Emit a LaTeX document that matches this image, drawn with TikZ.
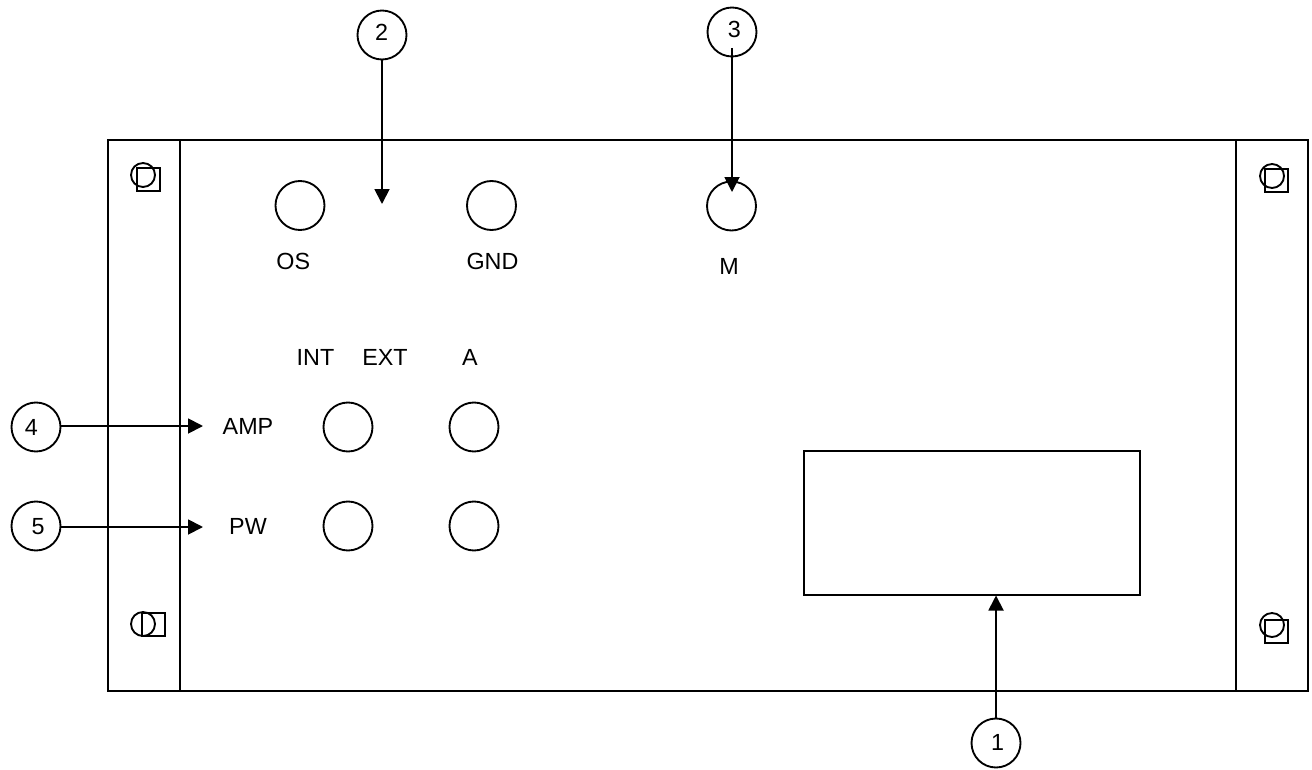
\documentclass[tikz,border=0pt]{standalone}
\usepackage{fontspec}
\setmainfont{Liberation Sans}
\usetikzlibrary{arrows.meta}
\tikzset{
  x=0.75pt,y=-0.75pt,
  line/.style={draw=black,line width=1.4pt},
  hole/.style={circle,draw=black,line width=1.4pt,minimum size=36.75pt,inner sep=0pt,outer sep=0pt},
  screwc/.style={circle,draw=black,line width=1.4pt,minimum size=18pt,inner sep=0pt},
  screws/.style={draw=black,line width=1.4pt,minimum width=17.25pt,minimum height=17.25pt,inner sep=0pt,outer sep=0pt},
  lab/.style={font=\fontsize{17.5}{20}\selectfont,inner sep=0pt,text=black},
  arr/.style={draw=black,line width=1.4pt,-{Triangle[length=11.25pt,width=11.25pt]}}
}
\begin{document}
\begin{tikzpicture}
\useasboundingbox (0,0) rectangle (1312,770);
\fill[white] (0,0) rectangle (1312,770);
\draw[line] (108,140) rectangle (1308,691);
\draw[line] (180,140) -- (180,691);
\draw[line] (1236,140) -- (1236,691);
% screws
\node[screwc] (c1) at (143,175) {};
\node[screws] (s1) at (148.5,179.5) {};
\node[screwc] (c2) at (143,624) {};
\node[screws] (s2) at (153.5,624.5) {};
\node[screwc] (c3) at (1272,176) {};
\node[screws] (s3) at (1276.5,180.5) {};
\node[screwc] (c4) at (1272,625) {};
\node[screws] (s4) at (1276.5,631.5) {};
% holes
\node[hole] (os) at (300,205.5) {};
\node[hole] (gnd) at (491.5,205.5) {};
\node[hole] (m) at (731.5,206) {};
\node[hole] (h1) at (348,427) {};
\node[hole] (h2) at (474,427) {};
\node[hole] (h3) at (348,526) {};
\node[hole] (h4) at (474,526) {};
\node[line,draw,minimum width=252pt,minimum height=108pt,inner sep=0pt] (disp) at (972,523) {};
% labels
\node[lab] (tos) at (293.3,261.7) {OS};
\node[lab] (tgnd) at (492.5,261.7) {GND};
\node[lab] (tm) at (729,266) {M};
\node[lab] (tint) at (315.5,357) {INT};
\node[lab] (text) at (385,357) {EXT};
\node[lab] (ta) at (470,357) {A};
\node[lab] (tamp) at (248,426.7) {AMP};
\node[lab] (tpw) at (248,526.7) {PW};
% callouts
\node[hole] (n1) at (996,743) {};
\node[hole] (n2) at (382,35) {};
\node[hole] (n3) at (732,32) {};
\node[hole] (n4) at (36,427) {};
\node[hole] (n5) at (36,526) {};
\node[lab] (d1) at (997.5,742) {1};
\node[lab] (d2) at (381.5,32) {2};
\node[lab] (d3) at (734.3,29) {3};
\node[lab] (d4) at (31.3,427) {4};
\node[lab] (d5) at (38,526.7) {5};
\coordinate (e1) at (996,595.5);
\coordinate (e2) at (382,204);
\coordinate (s3a) at (732,48);
\coordinate (e3) at (732,192);
\coordinate (e4) at (203,426);
\coordinate (e5) at (203,527);
\draw[arr] (n1.north) -- (e1);
\draw[arr] (n2.south) -- (e2);
\draw[arr] (s3a) -- (e3);
\draw[arr] (n4.east |- e4) -- (e4);
\draw[arr] (n5.east |- e5) -- (e5);
\end{tikzpicture}
\end{document}
